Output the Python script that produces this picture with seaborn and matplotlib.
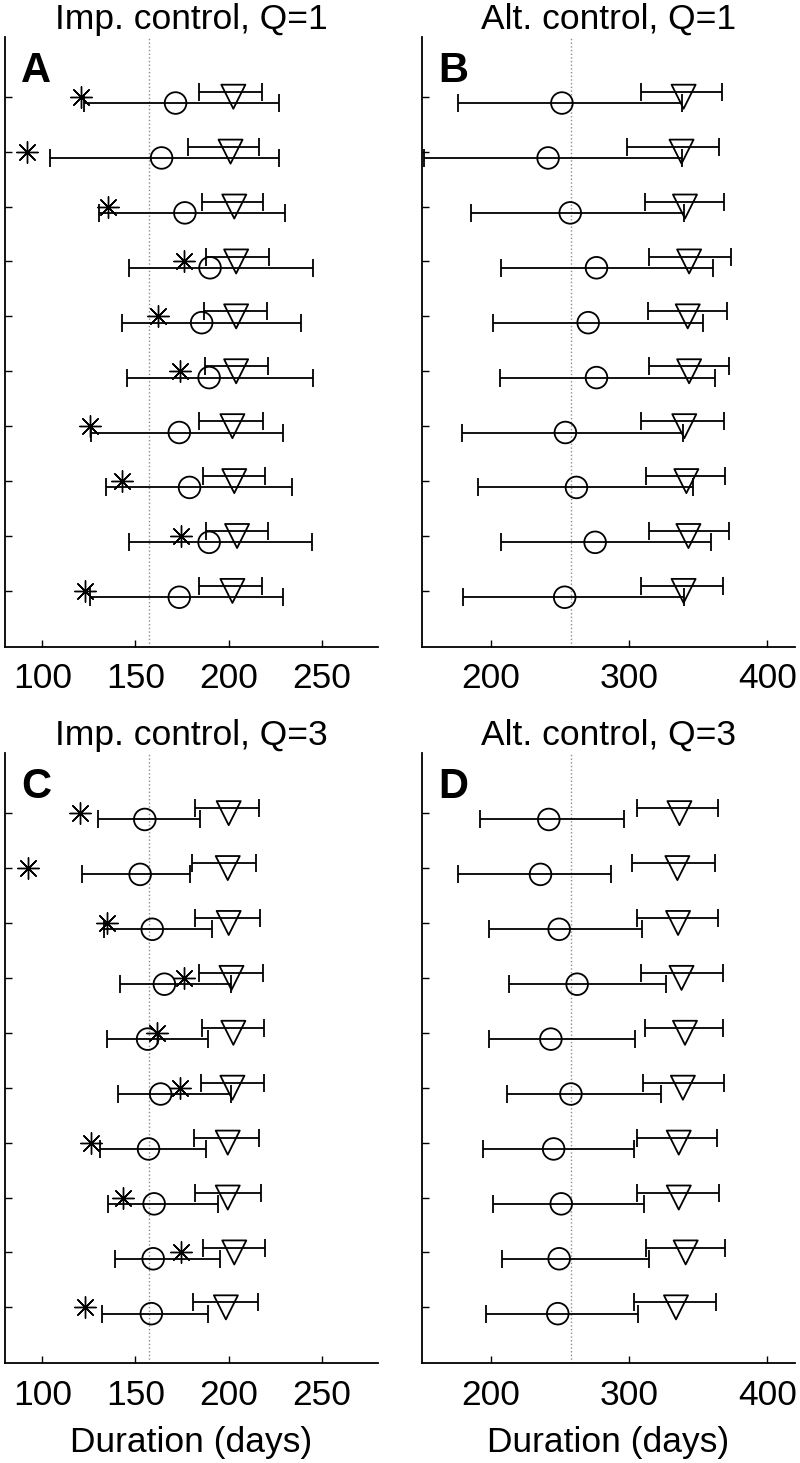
import numpy as np
import pandas as pd
import matplotlib
matplotlib.use('Agg')
import matplotlib.pyplot as plt
import seaborn as sns

sns.set_style('ticks', {'axes.edgecolor': 'black', 'text.color': 'black',
                        'axes.labelcolor': 'black', 'xtick.color': 'black',
                        'ytick.color': 'black'})
plt.rcParams['font.family'] = ['Liberation Sans', 'DejaVu Sans']

rows = np.arange(1, 11)

# Imp. control, Q=1 (panel A)
a_star = np.array([121, 92, 135, 176, 162, 174, 125.5, 143, 174.5, 123])
a_circ = np.array([171.5, 164, 176.5, 190, 185.5, 189.5, 173.5, 179, 189.5, 173.5])
a_circ_lo = np.array([122.5, 104, 130.5, 146.5, 142.5, 145.5, 126, 134, 146.5, 125.5])
a_circ_hi = np.array([227, 227, 230, 245, 239, 245, 229, 234, 244.5, 229])
a_tri = np.array([202.5, 201, 203, 204, 204, 204, 202, 203, 204.5, 202])
a_tri_lo = np.array([184, 178, 185.5, 188, 186.5, 187.5, 184, 186, 188, 184])
a_tri_hi = np.array([218, 216, 218.5, 221.5, 220.5, 221, 218.5, 219.5, 221, 218])

# Alt. control, Q=1 (panel B)
b_circ = np.array([251.5, 241.5, 257.5, 276.5, 270.5, 276.5, 254, 262, 275.5, 253.5])
b_circ_lo = np.array([176, 151.5, 186, 207.5, 202, 206.5, 179.5, 191, 207.5, 180])
b_circ_hi = np.array([338.5, 338, 340, 361, 353.5, 362.5, 339, 346, 359, 339.5])
b_tri = np.array([339.5, 338, 340.5, 343.5, 342.5, 343.5, 340, 341.5, 343, 339.5])
b_tri_lo = np.array([308.5, 298.5, 311.5, 314.5, 313.5, 314.5, 308.5, 312, 314.5, 308.5])
b_tri_hi = np.array([367.5, 365, 368.5, 373.5, 371, 372, 368.5, 369.5, 372.5, 368])

# Imp. control, Q=3 (panel C)
c_star = np.array([120.5, 92.5, 134.5, 176, 161.5, 174, 126, 143.5, 174.5, 123])
c_circ = np.array([155, 152.5, 159, 165.5, 156.5, 163.5, 157, 160, 159.5, 158.5])
c_circ_lo = np.array([130, 121.5, 133, 141.5, 134.5, 140.5, 131, 135.5, 139, 132])
c_circ_hi = np.array([184.5, 179, 191, 201.5, 189, 201, 188, 194.5, 195.5, 189])
c_tri = np.array([200, 199.5, 200, 201.5, 202.5, 202, 199.5, 199.5, 203, 198.5])
c_tri_lo = np.array([182, 180.5, 182, 184, 185.5, 185, 181.5, 182, 186, 181])
c_tri_hi = np.array([216.5, 214.5, 217, 218.5, 219, 219, 216, 217.5, 219.5, 215.5])

# Alt. control, Q=3 (panel D)
d_circ = np.array([242, 236, 249.5, 262.5, 243.5, 258, 245.5, 251, 249.5, 248.5])
d_circ_lo = np.array([192, 176.5, 198.5, 213.5, 199, 211.5, 194.5, 202, 208, 196.5])
d_circ_hi = np.array([296.5, 287, 309.5, 326.5, 304, 323, 303.5, 311, 314.5, 306.5])
d_tri = np.array([336.5, 335, 335.5, 338, 340.5, 339, 336, 336, 341, 334])
d_tri_lo = np.array([305.5, 302.5, 306, 308.5, 311.5, 310, 306, 306, 312.5, 303.5])
d_tri_hi = np.array([364.5, 362, 364.5, 368, 368, 368.5, 364, 365, 369.5, 363])

imp_ref = 157
alt_ref = 258
imp_ticks = [100, 150, 200, 250]
alt_ticks = [200, 300, 400]

FS = 25.5
LW = 1.3
asterisk = (8, 2, 0)


def draw_panel(ax, circ, circ_lo, circ_hi, tri, tri_lo, tri_hi, star, ref,
               xlim, xticks, title, letter, xlabel=None):
    y_tri = rows - 0.09
    y_circ = rows + 0.115
    ax.axvline(ref, color='0.55', ls=':', lw=1.0, zorder=0)
    ax.errorbar(circ, y_circ, xerr=[circ - circ_lo, circ_hi - circ], fmt='none',
                ecolor='k', elinewidth=LW, capsize=6.5, capthick=LW, zorder=2)
    ax.errorbar(tri, y_tri, xerr=[tri - tri_lo, tri_hi - tri], fmt='none',
                ecolor='k', elinewidth=LW, capsize=6.5, capthick=LW, zorder=2)
    sns.scatterplot(x=circ, y=y_circ, marker='o', s=243, facecolor='none',
                    edgecolor='k', linewidth=LW, ax=ax, zorder=3)
    sns.scatterplot(x=tri, y=rows, marker='v', s=300, facecolor='none',
                    edgecolor='k', linewidth=LW, ax=ax, zorder=3)
    if star is not None:
        sns.scatterplot(x=star, y=rows, marker=asterisk, s=240, color='k',
                        linewidth=1.0, ax=ax, zorder=4)
    ax.set_xlim(*xlim)
    ax.set_ylim(11.02, -0.09)
    ax.set_xticks(xticks)
    ax.set_yticks(rows)
    ax.set_yticklabels([])
    ax.tick_params(direction='in', length=5, width=1.0, labelsize=FS, pad=11)
    ax.set_title(title, fontsize=FS, pad=6)
    if xlabel:
        ax.set_xlabel(xlabel, fontsize=FS, labelpad=10)
    ax.text(0.044, 0.926, letter, transform=ax.transAxes, fontsize=30,
            fontweight='bold', ha='left', va='baseline')
    sns.despine(ax=ax)
    for s in ['left', 'bottom']:
        ax.spines[s].set_linewidth(LW)


fig = plt.figure(figsize=(8, 14.63), dpi=100)
axA = fig.add_axes([0.00625, 0.5578, 0.466, 0.417])
axB = fig.add_axes([0.527, 0.5578, 0.4666, 0.417])
axC = fig.add_axes([0.00625, 0.0681, 0.466, 0.417])
axD = fig.add_axes([0.527, 0.0681, 0.4666, 0.417])

draw_panel(axA, a_circ, a_circ_lo, a_circ_hi, a_tri, a_tri_lo, a_tri_hi, a_star,
           imp_ref, (80, 280), imp_ticks, 'Imp. control, Q=1', 'A')
draw_panel(axB, b_circ, b_circ_lo, b_circ_hi, b_tri, b_tri_lo, b_tri_hi, None,
           alt_ref, (150, 420), alt_ticks, 'Alt. control, Q=1', 'B')
draw_panel(axC, c_circ, c_circ_lo, c_circ_hi, c_tri, c_tri_lo, c_tri_hi, c_star,
           imp_ref, (80, 280), imp_ticks, 'Imp. control, Q=3', 'C',
           xlabel='Duration (days)')
draw_panel(axD, d_circ, d_circ_lo, d_circ_hi, d_tri, d_tri_lo, d_tri_hi, None,
           alt_ref, (150, 420), alt_ticks, 'Alt. control, Q=3', 'D',
           xlabel='Duration (days)')

fig.savefig('out.png', dpi=100)
